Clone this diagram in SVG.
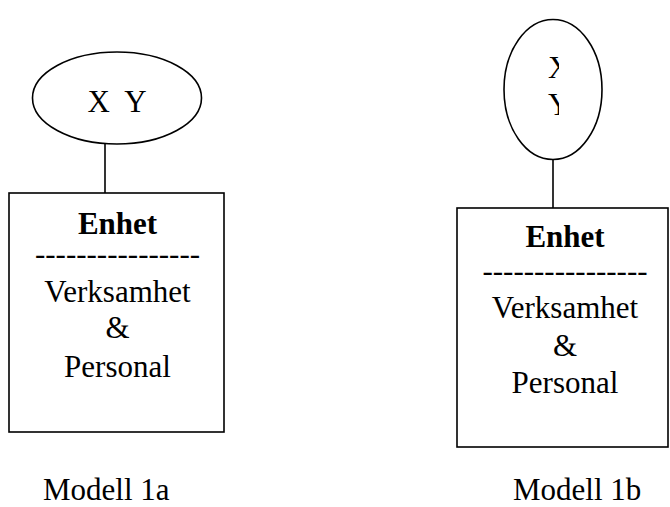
<svg xmlns="http://www.w3.org/2000/svg" width="670" height="507" viewBox="0 0 670 507">
<style>
.s{fill:none;stroke:#000;stroke-width:1.6}
.t{font-family:'Liberation Serif','Times New Roman',Times,serif;font-size:31px;fill:#000}
.c{text-anchor:middle}
.b{font-weight:bold}
</style>
<defs>
<clipPath id="clipR"><rect x="530" y="40" width="29" height="90"/></clipPath>
</defs>
<rect width="670" height="507" fill="#fff"/>
<g id="connectors">
<line class="s" x1="105" y1="144" x2="105" y2="193"/>
<line class="s" x1="553" y1="159" x2="553" y2="208"/>
</g>
<g class="t">
<g id="ellipse-1a">
<ellipse class="s" cx="117" cy="98" rx="84.5" ry="46"/>
<text x="117" y="111.5" class="c" xml:space="preserve">X  Y</text>
</g>
<g id="ellipse-1b">
<ellipse class="s" cx="553" cy="89.5" rx="49" ry="70"/>
<g clip-path="url(#clipR)">
<text x="548" y="78">X</text>
<text x="548" y="115">Y</text>
</g>
</g>
<g id="box-1a">
<rect class="s" x="9" y="193" width="215" height="239"/>
<text x="117.5" y="234" class="c b">Enhet</text>
<text x="117.5" y="264" class="c">----------------</text>
<text x="117.5" y="302" class="c">Verksamhet</text>
<text x="117.5" y="338" class="c">&amp;</text>
<text x="117.5" y="377" class="c">Personal</text>
</g>
<g id="box-1b">
<rect class="s" x="457" y="208" width="211" height="239"/>
<text x="565" y="247" class="c b">Enhet</text>
<text x="565" y="281" class="c">----------------</text>
<text x="565" y="318" class="c">Verksamhet</text>
<text x="565" y="356" class="c">&amp;</text>
<text x="565" y="393" class="c">Personal</text>
</g>
<g id="labels">
<text x="43" y="500">Modell 1a</text>
<text x="513" y="500">Modell 1b</text>
</g>
</g>
</svg>
